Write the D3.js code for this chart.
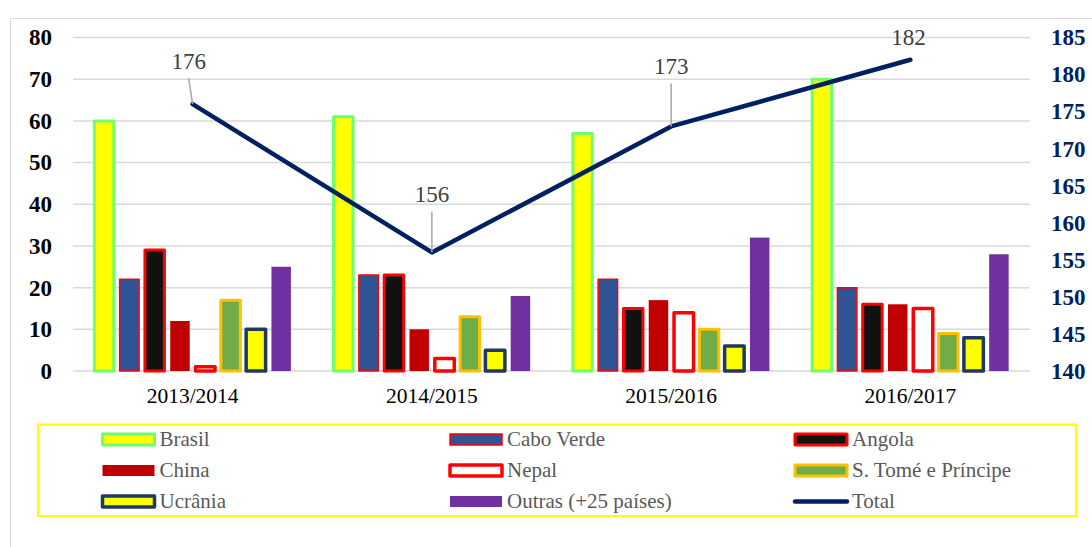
<!DOCTYPE html>
<html>
<head>
<meta charset="utf-8">
<script src="https://cdn.jsdelivr.net/npm/d3@7"></script>
<style>
  body { margin: 0; background: #fff; }
  svg { display: block; }
  svg text { font-family: "Liberation Serif", "Times New Roman", Times, serif; }
</style>
</head>
<body>
<div id="chart"></div>
<script>
// data
var years = ["2013/2014", "2014/2015", "2015/2016", "2016/2017"];
var series = ["Brasil", "Cabo Verde", "Angola", "China", "Nepal", "S. Tomé e Príncipe", "Ucrânia", "Outras (+25 países)"];

var brasil = [60, 61, 57, 70];
var caboVerde = [22, 23, 22, 20];
var angola = [29, 23, 15, 16];
var china = [12, 10, 17, 16];
var nepal = [1, 3, 14, 15];
var saoTome = [17, 13, 10, 9];
var ucrania = [10, 5, 6, 8];
var outras = [25, 18, 32, 28];
var total = [176, 156, 173, 182];

var leftTicks = [0, 10, 20, 30, 40, 50, 60, 70, 80];
var rightTicks = [140, 145, 150, 155, 160, 165, 170, 175, 180, 185];

var seriesValues = [brasil, caboVerde, angola, china, nepal, saoTome, ucrania, outras];

// looks of each series
var styles = {
	"Brasil": {fill: "#ffff00", stroke: "#6dff6d", sw: 3},
	"Cabo Verde": {fill: "#2f5597", stroke: "#ff0000", sw: 1.5},
	"Angola": {fill: "#111111", stroke: "#ff0000", sw: 3},
	"China": {fill: "#c00000", stroke: "none", sw: 0},
	"Nepal": {fill: "#ffffff", stroke: "#ff0000", sw: 3.5},
	"S. Tomé e Príncipe": {fill: "#70ad47", stroke: "#ffc000", sw: 3},
	"Ucrânia": {fill: "#ffff00", stroke: "#203864", sw: 3.5},
	"Outras (+25 países)": {fill: "#7030a0", stroke: "none", sw: 0}
};
var lineColor = "#002060";

// magic numbers
var W = 1092, H = 547,
	plot = {left: 73, right: 1030, top: 37.5, bottom: 371};

var svg = d3.select("#chart").append("svg")
		.attr("width", W)
		.attr("height", H);

svg.append("rect")
		.attr("width", W).attr("height", H)
		.attr("fill", "#fff");

// chart area frame (only top and left visible)
svg.append("rect")
		.attr("x", 10.5).attr("y", 18.5)
		.attr("width", W + 20).attr("height", H + 20)
		.attr("fill", "none")
		.attr("stroke", "#d9d9d9")
		.attr("stroke-width", 1);

var x0 = d3.scaleBand()
		.domain(years)
		.range([plot.left, plot.right]);

var x1 = d3.scaleBand()
		.domain(series)
		.range([0, x0.bandwidth()])
		.paddingInner(0.23)
		.paddingOuter(0.843);

var yL = d3.scaleLinear().domain([0, 80]).range([plot.bottom, plot.top]);
var yR = d3.scaleLinear().domain([140, 185]).range([plot.bottom, plot.top]);

// gridlines
svg.append("g").selectAll("line")
		.data(leftTicks)
	.enter().append("line")
		.attr("x1", plot.left).attr("x2", plot.right)
		.attr("y1", function(d){ return yL(d); })
		.attr("y2", function(d){ return yL(d); })
		.attr("stroke", "#d9d9d9")
		.attr("stroke-width", 1.5);

// axes
var gLeft = svg.append("g")
		.attr("transform", "translate(" + plot.left + ",0)")
		.call(d3.axisLeft(yL).tickValues(leftTicks).tickSize(0).tickPadding(21));

var gRight = svg.append("g")
		.attr("transform", "translate(" + plot.right + ",0)")
		.call(d3.axisRight(yR).tickValues(rightTicks).tickSize(0).tickPadding(21));

var gBottom = svg.append("g")
		.attr("transform", "translate(0," + plot.bottom + ")")
		.call(d3.axisBottom(x0).tickSize(0).tickPadding(17));

[gLeft, gRight, gBottom].forEach(function(g){
	g.select(".domain").remove();
	g.attr("font-family", null);
});

gLeft.selectAll("text")
		.style("font-size", "23px").style("font-weight", "bold")
		.attr("fill", "#000");
gRight.selectAll("text")
		.style("font-size", "23px").style("font-weight", "bold")
		.attr("fill", lineColor);
gBottom.selectAll("text")
		.style("font-size", "21.5px")
		.attr("fill", "#000");

// bars
var groups = svg.append("g").selectAll("g")
		.data(years)
	.enter().append("g")
		.attr("transform", function(d){ return "translate(" + x0(d) + ",0)"; });

groups.selectAll("rect")
		.data(function(d, yi){
			return series.map(function(s, si){ return {name: s, value: seriesValues[si][yi]}; });
		})
	.enter().append("rect")
		.attr("x", function(d){ return x1(d.name); })
		.attr("width", x1.bandwidth())
		.attr("y", function(d){ return yL(d.value); })
		.attr("height", function(d){ return yL(0) - yL(d.value); })
		.attr("fill", function(d){ return styles[d.name].fill; })
		.attr("stroke", function(d){ return styles[d.name].stroke; })
		.attr("stroke-width", function(d){ return styles[d.name].sw; })
		.attr("stroke-linejoin", "round");

// total line
var line = d3.line()
		.x(function(d, i){ return x0(years[i]) + x0.bandwidth() / 2; })
		.y(function(d){ return yR(d); });

svg.append("path")
		.datum(total)
		.attr("d", line)
		.attr("fill", "none")
		.attr("stroke", lineColor)
		.attr("stroke-width", 4.5)
		.attr("stroke-linecap", "round")
		.attr("stroke-linejoin", "round");

// data labels, moved off the line like in the original
var labelShift = [{dx: -4, dy: -35, lead: true}, {dx: 0, dy: -50, lead: true},
	{dx: 0, dy: -52, lead: true}, {dx: -2, dy: -15, lead: false}];

total.forEach(function(v, i){
	var px = x0(years[i]) + x0.bandwidth() / 2,
		py = yR(v),
		s = labelShift[i];
	if (s.lead){
		svg.append("line")
				.attr("x1", px + s.dx).attr("y1", py + s.dy + 9)
				.attr("x2", px).attr("y2", py)
				.attr("stroke", "#a6a6a6")
				.attr("stroke-width", 1.5);
	}
	svg.append("text")
			.attr("x", px + s.dx).attr("y", py + s.dy)
			.attr("text-anchor", "middle")
			.style("font-size", "23px")
			.attr("fill", "#404040")
			.text(v);
});

// legend
svg.append("rect")
		.attr("x", 38).attr("y", 424.5)
		.attr("width", 1038).attr("height", 91.5)
		.attr("fill", "none")
		.attr("stroke", "#ffff00")
		.attr("stroke-width", 2);

var legendItems = series.concat(["Total"]);
var colX = [102.5, 450, 795],
	rowY = [439.5, 470.5, 501.5],
	symW = 52, symH = 11;

var legend = svg.append("g").selectAll("g")
		.data(legendItems)
	.enter().append("g")
		.attr("transform", function(d, i){
			return "translate(" + colX[i % 3] + "," + rowY[Math.floor(i / 3)] + ")";
		});

legend.each(function(d){
	var g = d3.select(this);
	if (d == "Total"){
		g.append("line")
				.attr("x1", 0).attr("x2", symW)
				.attr("stroke", lineColor)
				.attr("stroke-width", 4.5)
				.attr("stroke-linecap", "round");
	} else {
		g.append("rect")
				.attr("y", -symH / 2)
				.attr("width", symW).attr("height", symH)
				.attr("fill", styles[d].fill)
				.attr("stroke", styles[d].stroke)
				.attr("stroke-width", styles[d].sw)
				.attr("stroke-linejoin", "round");
	}
});

legend.append("text")
		.attr("x", symW + 5)
		.attr("dy", "0.33em")
		.style("font-size", "21px")
		.attr("fill", "#595959")
		.text(function(d){ return d; });
</script>
</body>
</html>
